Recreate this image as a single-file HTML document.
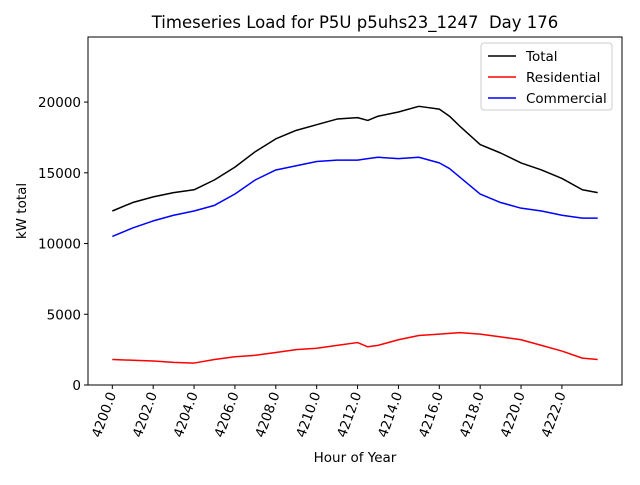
<!DOCTYPE html>
<html><head><meta charset="utf-8"><style>
body{margin:0;background:#fff;}
svg text{font-family:"DejaVu Sans","Liberation Sans",sans-serif;fill:#000;}
</style></head><body>
<svg id="chart" width="640" height="480" viewBox="0 0 640 480" xmlns="http://www.w3.org/2000/svg">
<rect x="0" y="0" width="640" height="480" fill="#fff"/>
<text x="355" y="28" font-size="16.5" text-anchor="middle" xml:space="preserve">Timeseries Load for P5U p5uhs23_1247  Day 176</text>
<g id="plot"></g>
<rect x="88" y="37" width="534" height="348" fill="none" stroke="#000" stroke-width="1"/>
<text transform="translate(26,211) rotate(-90)" font-size="13.5" text-anchor="middle">kW total</text>
<text x="355" y="462" font-size="13.5" text-anchor="middle">Hour of Year</text>
<g>
<rect x="481" y="43" width="131" height="67" rx="3" fill="#fff" fill-opacity="0.8" stroke="#ccc"/>
<line x1="488" y1="56" x2="516" y2="56" stroke="#000" stroke-width="1.5"/>
<text x="526" y="61" font-size="13.5">Total</text>
<line x1="488" y1="77" x2="516" y2="77" stroke="#f00" stroke-width="1.5"/>
<text x="526" y="82" font-size="13.5">Residential</text>
<line x1="488" y1="98" x2="516" y2="98" stroke="#00f" stroke-width="1.5"/>
<text x="526" y="103" font-size="13.5">Commercial</text>
</g>
</svg>
<script>
const hours=[4200,4201,4202,4203,4204,4205,4206,4207,4208,4209,4210,4211,4212,4212.5,4213,4214,4215,4216,4216.5,4217,4218,4219,4220,4221,4222,4223,4223.75];
const total=[12300,12900,13300,13600,13800,14500,15400,16500,17400,18000,18400,18800,18900,18700,19000,19300,19700,19500,19000,18300,17000,16400,15700,15200,14600,13800,13600];
const residential=[1800,1750,1700,1600,1550,1800,2000,2100,2300,2500,2600,2800,3000,2700,2800,3200,3500,3600,3650,3700,3600,3400,3200,2800,2400,1900,1800];
const commercial=[10500,11100,11600,12000,12300,12700,13500,14500,15200,15500,15800,15900,15900,16000,16100,16000,16100,15700,15300,14700,13500,12900,12500,12300,12000,11800,11800];
const yTicks=[0,5000,10000,15000,20000];
const xTicks=[4200,4202,4204,4206,4208,4210,4212,4214,4216,4218,4220,4222];
const X0=88,X1=622,Y0=385,Y1=37;
const xMin=4198.81,xMax=4224.94,yMin=0,yMax=24600;
const sx=v=>X0+(v-xMin)/(xMax-xMin)*(X1-X0);
const sy=v=>Y0-(v-yMin)/(yMax-yMin)*(Y0-Y1);
const NS="http://www.w3.org/2000/svg";
const g=document.getElementById('plot');
function mk(t,a){const e=document.createElementNS(NS,t);for(const k in a)e.setAttribute(k,a[k]);g.appendChild(e);return e;}
yTicks.forEach(t=>{
 const l=mk('line',{x1:X0-4,x2:X0,y1:sy(t),y2:sy(t),stroke:'#000'});
 
 
 const tx=mk('text',{x:X0-7,y:sy(t)+5,'font-size':'13.5','text-anchor':'end'});
 tx.textContent=t;
 
 
});
xTicks.forEach(t=>{
 const l=mk('line',{x1:sx(t),x2:sx(t),y1:Y0,y2:Y0+4,stroke:'#000'});
 
 
 const x=sx(t)+4,y=Y0+9;
 const tx=mk('text',{x:x,y:y,'font-size':'13.5','text-anchor':'end',transform:`rotate(-70 ${x} ${y})`});
 tx.textContent=t.toFixed(1);
 
 
});
function line(vals,color,name){
 const p=mk('polyline',{points:hours.map((h,i)=>sx(h)+','+sy(vals[i])).join(' '),fill:'none',stroke:color,'stroke-width':1.5,'stroke-linejoin':'round'});
 
 
}
line(total,'#000','total-line');
line(residential,'#f00','residential-line');
line(commercial,'#00f','commercial-line');
</script>
</body></html>
